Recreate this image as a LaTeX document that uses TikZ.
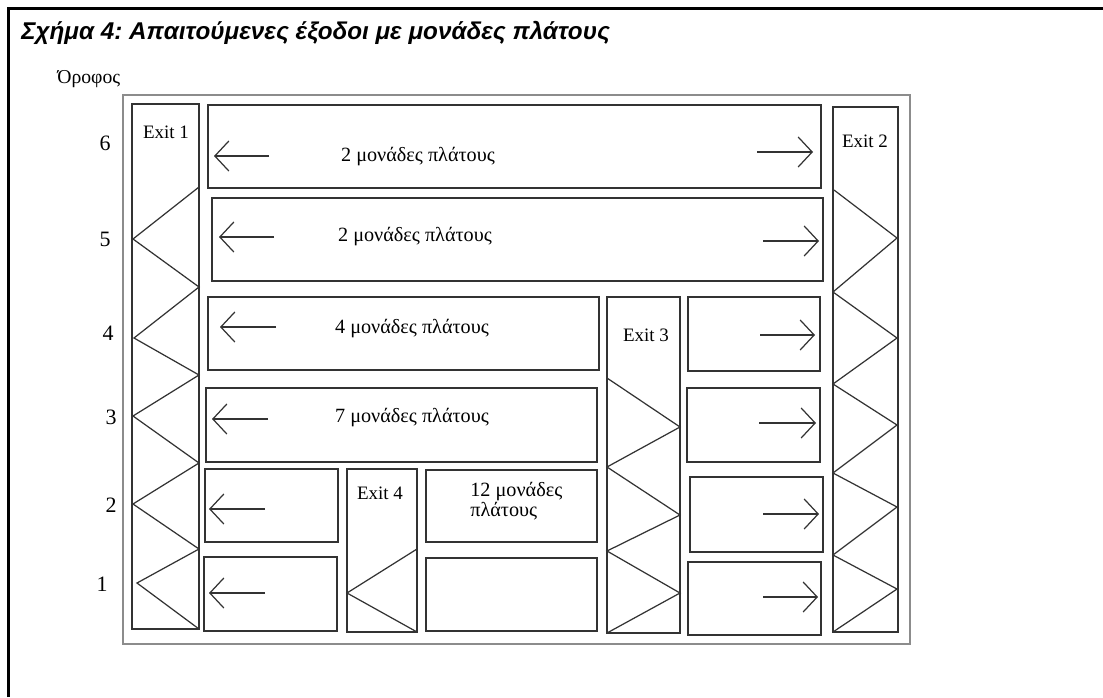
\documentclass[tikz,border=0pt]{standalone}
\usepackage{fontspec}
\setmainfont{Liberation Serif}
\newfontfamily\titlefont{Liberation Sans}
\usetikzlibrary{arrows.meta}
\frenchspacing

\begin{document}
\begin{tikzpicture}[x=0.02cm, y=-0.02cm,
    box/.style={draw=black!80, line width=0.7pt},
    frame/.style={draw=black!45, line width=1.1pt},
    arr/.style={draw=black!80, line width=0.7pt, -{Straight Barb[length=2.8mm,width=6mm]}},
    lbl/.style={font=\fontsize{10.8}{12}\selectfont, inner sep=0pt},
    wid/.style={font=\fontsize{11.5}{12}\selectfont, inner sep=0pt},
    flr/.style={font=\fontsize{12.5}{14}\selectfont, inner sep=0pt}]
            \useasboundingbox (0,0) rectangle (1103,697);
            \draw[black, line width=1.7pt] (8.5,697) -- (8.5,8.5) -- (1103,8.5);
            \node[anchor=west, inner sep=0pt, font={\titlefont\fontsize{13.8}{15}\selectfont\bfseries\itshape}] (T) at (21,33) {Σχήμα 4: Απαιτούμενες έξοδοι με μονάδες πλάτους};
            \node[anchor=west, inner sep=0pt, font=\fontsize{11.2}{12}\selectfont] (O) at (57,79) {Όροφος};
            % floor numbers
            \node[flr] (F6) at (105,143) {6};
            \node[flr] (F5) at (105,239) {5};
            \node[flr] (F4) at (108,333) {4};
            \node[flr] (F3) at (111,417) {3};
            \node[flr] (F2) at (111,505) {2};
            \node[flr] (F1) at (102,584) {1};
            % building
            \draw[frame] (123,95) rectangle (910,644);
            % exits
            \draw[box] (132,104) rectangle (199,629);
            \draw[box] (833,107) rectangle (898,632);
            \draw[box] (607,297) rectangle (680,633);
            \draw[box] (347,469) rectangle (417,632);
            \node[lbl] (X1) at (166,132) {Exit 1};
            \node[lbl] (X2) at (865,141) {Exit 2};
            \node[lbl] (X3) at (646,335) {Exit 3};
            \node[lbl] (X4) at (380,493) {Exit 4};
            \draw[box] (199,187) -- (133,239) -- (199,287) -- (134,338) -- (199,375) -- (133,416)
                -- (199,463) -- (133,504) -- (199,549) -- (137,583) -- (199,629);
            \draw[box] (834,190) -- (897,238) -- (833,292) -- (897,338) -- (833,384) -- (897,425)
                -- (833,473) -- (897,507) -- (833,555) -- (897,589) -- (833,632);
            \draw[box] (607,378) -- (680,427) -- (607,467) -- (680,515) -- (607,551) -- (680,593) -- (607,633);
            \draw[box] (417,549) -- (347,593) -- (417,632);
            % corridors
            \draw[box] (208,105) rectangle (821,188);
            \draw[box] (212,198) rectangle (823,281);
            \draw[box] (208,297) rectangle (599,370);
            \draw[box] (688,297) rectangle (820,371);
            \draw[box] (206,388) rectangle (597,462);
            \draw[box] (687,388) rectangle (820,462);
            \draw[box] (205,469) rectangle (338,542);
            \draw[box] (426,470) rectangle (597,542);
            \draw[box] (690,477) rectangle (823,552);
            \draw[box] (204,557) rectangle (337,631);
            \draw[box] (426,558) rectangle (597,631);
            \draw[box] (688,562) rectangle (821,635);
            \node[wid] (W6) at (418,157) {2 μονάδες πλάτους};
            \node[wid] (W5) at (415,237) {2 μονάδες πλάτους};
            \node[wid] (W4) at (412,329) {4 μονάδες πλάτους};
            \node[wid] (W3) at (412,418) {7 μονάδες πλάτους};
            \node[wid, anchor=north west, align=left, font=\fontsize{11.5}{10}\selectfont] (W2) at (470,482) {12 μονάδες\\πλάτους};
            % directions
            \draw[arr] (269,156) -- (214,156);
            \draw[arr] (757,152) -- (813,152);
            \draw[arr] (274,237) -- (219,237);
            \draw[arr] (763,241) -- (819,241);
            \draw[arr] (276,327) -- (220,327);
            \draw[arr] (760,335) -- (815,335);
            \draw[arr] (268,419) -- (212,419);
            \draw[arr] (759,423) -- (816,423);
            \draw[arr] (265,509) -- (209,509);
            \draw[arr] (763,514) -- (819,514);
            \draw[arr] (265,593) -- (209,593);
            \draw[arr] (763,597) -- (818,597);
		\end{tikzpicture}
\end{document}
